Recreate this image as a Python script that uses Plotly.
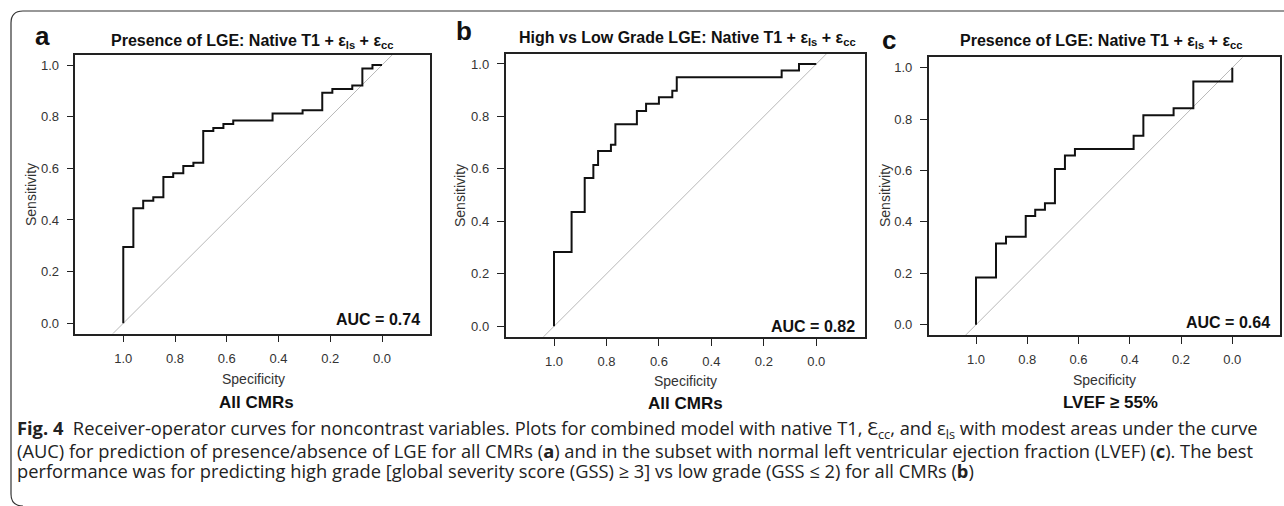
import plotly.graph_objects as go

W, H = 1284, 506

# ---------------- data ----------------
tick_vals = [0.0, 0.2, 0.4, 0.6, 0.8, 1.0]
tick_text = ["0.0", "0.2", "0.4", "0.6", "0.8", "1.0"]

# Panel a: Presence of LGE, all CMRs
spec_a = [1.0, 0.961, 0.923, 0.884, 0.845, 0.807, 0.768, 0.729, 0.691, 0.652,
          0.613, 0.575, 0.423, 0.307, 0.231, 0.192, 0.115, 0.076, 0.037, 0.0]
sens_a = [0.0, 0.295, 0.445, 0.474, 0.488, 0.566, 0.581, 0.609, 0.622, 0.745,
          0.756, 0.772, 0.785, 0.812, 0.825, 0.893, 0.907, 0.921, 0.987, 1.0]

# Panel b: High vs Low grade LGE, all CMRs
spec_b = [1.0, 0.933, 0.883, 0.850, 0.832, 0.783, 0.766, 0.684, 0.649, 0.600,
          0.549, 0.532, 0.132, 0.066, 0.0]
sens_b = [0.0, 0.283, 0.436, 0.565, 0.615, 0.668, 0.692, 0.770, 0.821, 0.848,
          0.873, 0.898, 0.949, 0.975, 1.0]

# Panel c: Presence of LGE, LVEF >= 55%
spec_c = [1.0, 0.922, 0.883, 0.806, 0.769, 0.731, 0.692, 0.653, 0.614, 0.385,
          0.347, 0.229, 0.152, 0.0, 0.0]
sens_c = [0.0, 0.184, 0.316, 0.342, 0.423, 0.447, 0.473, 0.606, 0.658, 0.684,
          0.735, 0.815, 0.842, 0.946, 1.0]

panel_letters = ["a", "b", "c"]
panel_titles = [
    "Presence of LGE: Native T1 + ε<sub>ls</sub> + ε<sub>cc</sub>",
    "High vs Low Grade LGE: Native T1 + ε<sub>ls</sub> + ε<sub>cc</sub>",
    "Presence of LGE: Native T1 + ε<sub>ls</sub> + ε<sub>cc</sub>",
]
auc_labels = ["AUC = 0.74", "AUC = 0.82", "AUC = 0.64"]
subtitles = ["All CMRs", "All CMRs", "LVEF ≥ 55%"]

caption_lines = [
    "<b>Fig. 4</b>  Receiver-operator curves for noncontrast variables. Plots for combined model with native T1, Ɛ<sub>cc</sub>, and ε<sub>ls</sub> with modest areas under the curve",
    "(AUC) for prediction of presence/absence of LGE for all CMRs (<b>a</b>) and in the subset with normal left ventricular ejection fraction (LVEF) (<b>c</b>). The best",
    "performance was for predicting high grade [global severity score (GSS) ≥ 3] vs low grade (GSS ≤ 2) for all CMRs (<b>b</b>)",
]

x_range = [1.185, -0.185]
y_range = [-0.04, 1.04]

# ---------------- layout geometry (pixels) ----------------
boxes = [  # x0, x1, y0(top), y1(bottom)
    (75.4, 429.9, 54.7, 333.6),
    (505.5, 864.8, 53.5, 336.8),
    (928.6, 1279.7, 57.4, 335.0),
]
letter_pos = [(43, 35.5), (464, 31), (889, 39.5)]
title_pos = [(252, 41.5), (688, 38.5), (1101, 41.5)]
auc_pos = [(422, 319), (857, 326), (1272, 322)]
ylab_pos = [(31, 195), (460, 196), (885, 196)]
xlab_pos = [(253, 379), (685, 381), (1104, 380)]
sub_pos = [(256, 402), (685, 403), (1110, 402)]
cap_y = [429, 450, 470]


def px(x):
    return x / W


def py(y):
    return 1 - y / H


FONT = "Liberation Sans, Arial, Helvetica, sans-serif"
CAP_FONT = "Open Sans, Noto Sans, sans-serif"

fig = go.Figure()
specs = [spec_a, spec_b, spec_c]
senss = [sens_a, sens_b, sens_c]

annotations = []
for i in range(3):
    sfx = "" if i == 0 else str(i + 1)
    xa, ya = "x" + sfx, "y" + sfx
    # diagonal reference line across the full plotting range
    fig.add_trace(go.Scatter(
        x=[x_range[0], x_range[1]],
        y=[1 - x_range[0], 1 - x_range[1]],
        mode="lines", line=dict(color="#b8b8b8", width=1),
        xaxis=xa, yaxis=ya, hoverinfo="skip", showlegend=False, cliponaxis=True))
    fig.add_trace(go.Scatter(
        x=specs[i], y=senss[i], mode="lines",
        line=dict(color="#111111", width=2, shape="vh"),
        xaxis=xa, yaxis=ya, showlegend=False))

    x0, x1, y0, y1 = boxes[i]
    axis_common = dict(
        showline=True, mirror=True, linecolor="#222222", linewidth=1.5,
        ticks="outside", ticklen=7, tickwidth=1.2, tickcolor="#222222",
        tickvals=tick_vals, ticktext=tick_text,
        tickfont=dict(family=FONT, size=13, color="#333333"),
        showgrid=False, zeroline=False, fixedrange=True,
    )
    fig.update_layout(**{
        ("xaxis" + sfx): dict(axis_common, domain=[px(x0), px(x1)], range=x_range,
                              anchor=ya, ticklabelstandoff=5),
        ("yaxis" + sfx): dict(axis_common, domain=[py(y1), py(y0)], range=y_range,
                              anchor=xa, ticklabelstandoff=5),
    })

    lx, ly = letter_pos[i]
    annotations.append(dict(text="<b>" + panel_letters[i] + "</b>", x=px(lx), y=py(ly),
                            xref="paper", yref="paper", showarrow=False,
                            xanchor="center", yanchor="middle",
                            font=dict(family=FONT, size=26, color="#111111")))
    tx, ty = title_pos[i]
    annotations.append(dict(text="<b>" + panel_titles[i] + "</b>", x=px(tx), y=py(ty),
                            xref="paper", yref="paper", showarrow=False,
                            xanchor="center", yanchor="middle",
                            font=dict(family=FONT, size=16, color="#111111")))
    ax_, ay_ = auc_pos[i]
    annotations.append(dict(text="<b>" + auc_labels[i] + "</b>", x=px(ax_), y=py(ay_),
                            xref="paper", yref="paper", showarrow=False,
                            xanchor="right", yanchor="middle",
                            font=dict(family=FONT, size=16, color="#111111")))
    yx, yy = ylab_pos[i]
    annotations.append(dict(text="Sensitivity", x=px(yx), y=py(yy), textangle=-90,
                            xref="paper", yref="paper", showarrow=False,
                            xanchor="center", yanchor="middle",
                            font=dict(family=FONT, size=14, color="#333333")))
    xx, xy = xlab_pos[i]
    annotations.append(dict(text="Specificity", x=px(xx), y=py(xy),
                            xref="paper", yref="paper", showarrow=False,
                            xanchor="center", yanchor="middle",
                            font=dict(family=FONT, size=14, color="#333333")))
    sx, sy = sub_pos[i]
    annotations.append(dict(text="<b>" + subtitles[i] + "</b>", x=px(sx), y=py(sy),
                            xref="paper", yref="paper", showarrow=False,
                            xanchor="center", yanchor="middle",
                            font=dict(family=FONT, size=17, color="#111111")))

for line, cy in zip(caption_lines, cap_y):
    annotations.append(dict(text=line, x=px(15), y=py(cy), xref="paper", yref="paper",
                            showarrow=False, xanchor="left", yanchor="middle",
                            align="left",
                            font=dict(family=CAP_FONT, size=18.3, color="#222222")))

# outer frame (top and left edges with rounded corners)
r = 12
frame = (f"M {px(W + 5)},{py(11)} L {px(11 + r)},{py(11)} "
         f"Q {px(11)},{py(11)} {px(11)},{py(11 + r)} "
         f"L {px(11)},{py(506 - r)} Q {px(11)},{py(506)} {px(11 + r)},{py(506)}")

fig.update_layout(
    width=W, height=H, margin=dict(l=0, r=0, t=0, b=0),
    paper_bgcolor="white", plot_bgcolor="white",
    annotations=annotations,
    shapes=[dict(type="path", path=frame, xref="paper", yref="paper",
                 line=dict(color="#333333", width=1.2))],
    showlegend=False,
)

fig.write_html("out.html")
